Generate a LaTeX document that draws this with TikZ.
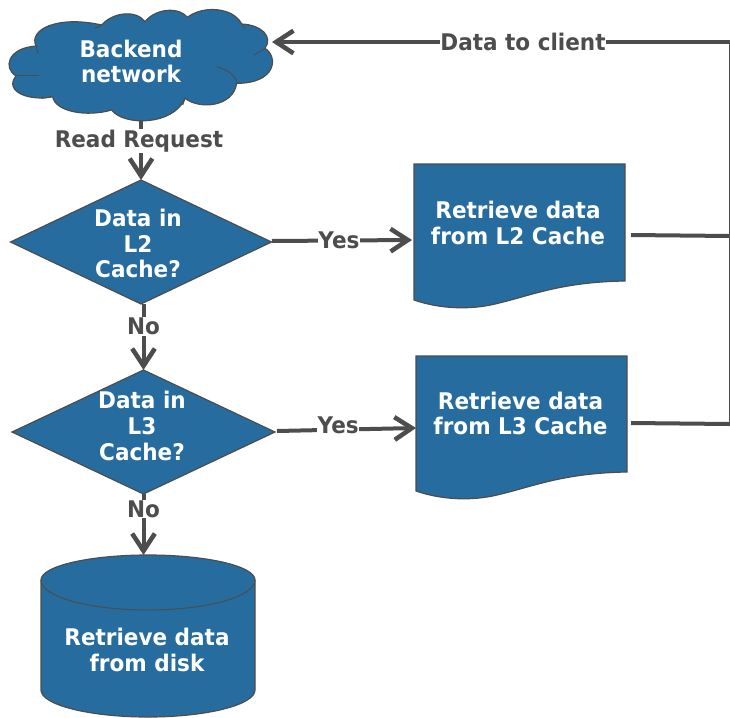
\documentclass[tikz,border=0pt]{standalone}
\usepackage{fontspec}
\setmainfont{DejaVu Sans}[FakeStretch=0.94]
\usetikzlibrary{arrows.meta,shapes.geometric}
\definecolor{shapeblue}{HTML}{266C9F}
\definecolor{linegray}{HTML}{4D4D4D}
\tikzset{
  x=0.75pt,y=-0.75pt,
  shapeline/.style={draw=linegray,line width=0.9pt,fill=shapeblue},
  detail/.style={draw=linegray,line width=0.75pt},
  boxtext/.style={text=white,font=\fontsize{17.2pt}{19.4pt}\selectfont\bfseries,align=center,inner sep=0pt},
  holder/.style={inner sep=0pt,outer sep=0pt},
  diamondshape/.style={diamond,aspect=2.1,shapeline,inner sep=0pt,outer sep=0pt},
  conn/.style={draw=linegray,line width=3pt},
  arrowconn/.style={conn,-{Straight Barb[length=13pt,width=17pt,line width=3.4pt]}},
  edgetext/.style={text=linegray,fill=white,font=\fontsize{17.2pt}{19pt}\selectfont\bfseries,inner sep=0.5pt},
}
\begin{document}
\begin{tikzpicture}
\useasboundingbox (0,0) rectangle (730,717);
\clip (0,0) rectangle (730,717);
% cloud
\begin{scope}[x=0.25pt,y=-0.25pt]
\draw[shapeline] (48,228) .. controls (10,205) and (20,145) .. (108,138)
 .. controls (85,90) and (170,45) .. (305,75)
 .. controls (340,35) and (410,30) .. (435,65)
 .. controls (470,22) and (540,22) .. (562,52)
 .. controls (610,15) and (700,22) .. (725,72)
 .. controls (785,75) and (820,110) .. (795,145)
 .. controls (835,170) and (830,250) .. (710,250)
 .. controls (700,320) and (600,330) .. (555,295)
 .. controls (520,378) and (370,378) .. (335,330)
 .. controls (260,352) and (165,335) .. (158,290)
 .. controls (90,305) and (10,275) .. (48,228) -- cycle;
\draw[detail] (48,225) -- (118,225);
\draw[detail] (158,290) -- (125,295);
\draw[detail] (650,200) .. controls (680,208) and (708,225) .. (710,250);
\draw[detail] (795,145) -- (762,165);
\draw[detail] (725,72) -- (735,85);
\draw[detail] (305,75) -- (285,85);
\draw[detail] (555,295) -- (548,315);
\draw[detail] (108,138) -- (114,160);
\end{scope}
\node[holder,minimum width=262pt*0.75,minimum height=106pt*0.75] (cloud) at (141,67) {};
\node[boxtext] (cloudtext) at (131,61.5) {Backend\\network};
% diamonds
\node[diamondshape,minimum width=261*0.75pt,minimum height=124*0.75pt] (d2) at (141,242) {};
\node[boxtext] (d2text) at (138,243.5) {Data in\\L2\\Cache?};
\node[diamondshape,minimum width=263*0.75pt,minimum height=124*0.75pt] (d3) at (143.5,432) {};
\node[boxtext] (d3text) at (142,426) {Data in\\L3\\Cache?};
% documents
\draw[shapeline] (414,164) -- (625,164) -- (625,281)
  .. controls (560,282) and (530,296) .. (495,304)
  .. controls (470,310) and (440,309) .. (414,300) -- cycle;
\node[holder,minimum width=211*0.75pt,minimum height=117*0.75pt] (doc2) at (519.5,222.5) {};
\node[boxtext] (doc2text) at (518,223) {Retrieve data\\from L2 Cache};
\draw[shapeline] (416,356) -- (627,356) -- (627,472)
  .. controls (562,473) and (532,487) .. (497,495)
  .. controls (472,501) and (442,500) .. (416,491) -- cycle;
\node[holder,minimum width=211*0.75pt,minimum height=116*0.75pt] (doc3) at (521.5,414) {};
\node[boxtext] (doc3text) at (520.5,413.5) {Retrieve data\\from L3 Cache};
% cylinder
\draw[shapeline] (41,580) .. controls (41,566) and (90,555) .. (148,555)
  .. controls (206,555) and (255,566) .. (255,580)
  -- (255,690) .. controls (255,705) and (206,717) .. (148,717)
  .. controls (90,717) and (41,705) .. (41,690) -- cycle;
\draw[detail] (41,580) .. controls (41,597) and (90,610) .. (148,610)
  .. controls (206,610) and (255,597) .. (255,580);
\node[holder,minimum width=214*0.75pt,minimum height=162*0.75pt] (cyl) at (148,636) {};
\node[boxtext] (cyltext) at (147,650) {Retrieve data\\from disk};
% right-hand junctions
\coordinate (r1) at (730,42);
\coordinate (r2) at (730,236);
\coordinate (r3) at (730,424);
\coordinate (s2) at (631,235);
\coordinate (s3) at (631,423);
\coordinate (c1) at (272,42);
\coordinate (y2a) at (272,241);
\coordinate (y2b) at (412,240);
\coordinate (y3a) at (277,431);
\coordinate (y3b) at (416,428);
% connectors
\draw[arrowconn] (cloud.south -| d2.north) -- node[edgetext,pos=0.34,xshift=-1.5pt,yshift=-0.6pt] (rr) {Read Request} (d2.north);
\draw[arrowconn] (y2a) -- node[edgetext,pos=0.478] (yes2) {Yes} (y2b);
\draw[arrowconn] (d2.south -| d3.north) -- node[edgetext,pos=0.34] (no2) {No} (d3.north);
\draw[arrowconn] (y3a) -- node[edgetext,pos=0.44,yshift=3pt] (yes3) {Yes} (y3b);
\draw[arrowconn] (d3.south) -- node[edgetext,pos=0.25] (no3) {No} (d3.south |- cyl.north);
\draw[arrowconn] (r1) -- node[edgetext,pos=0.452] (dtc) {Data to client} (c1);
\draw[conn] (s2) -- (r2);
\draw[conn] (s3) -- (r3);
\draw[draw=linegray,line width=1.5pt] (r1) -- (r3);
\end{tikzpicture}
\end{document}
